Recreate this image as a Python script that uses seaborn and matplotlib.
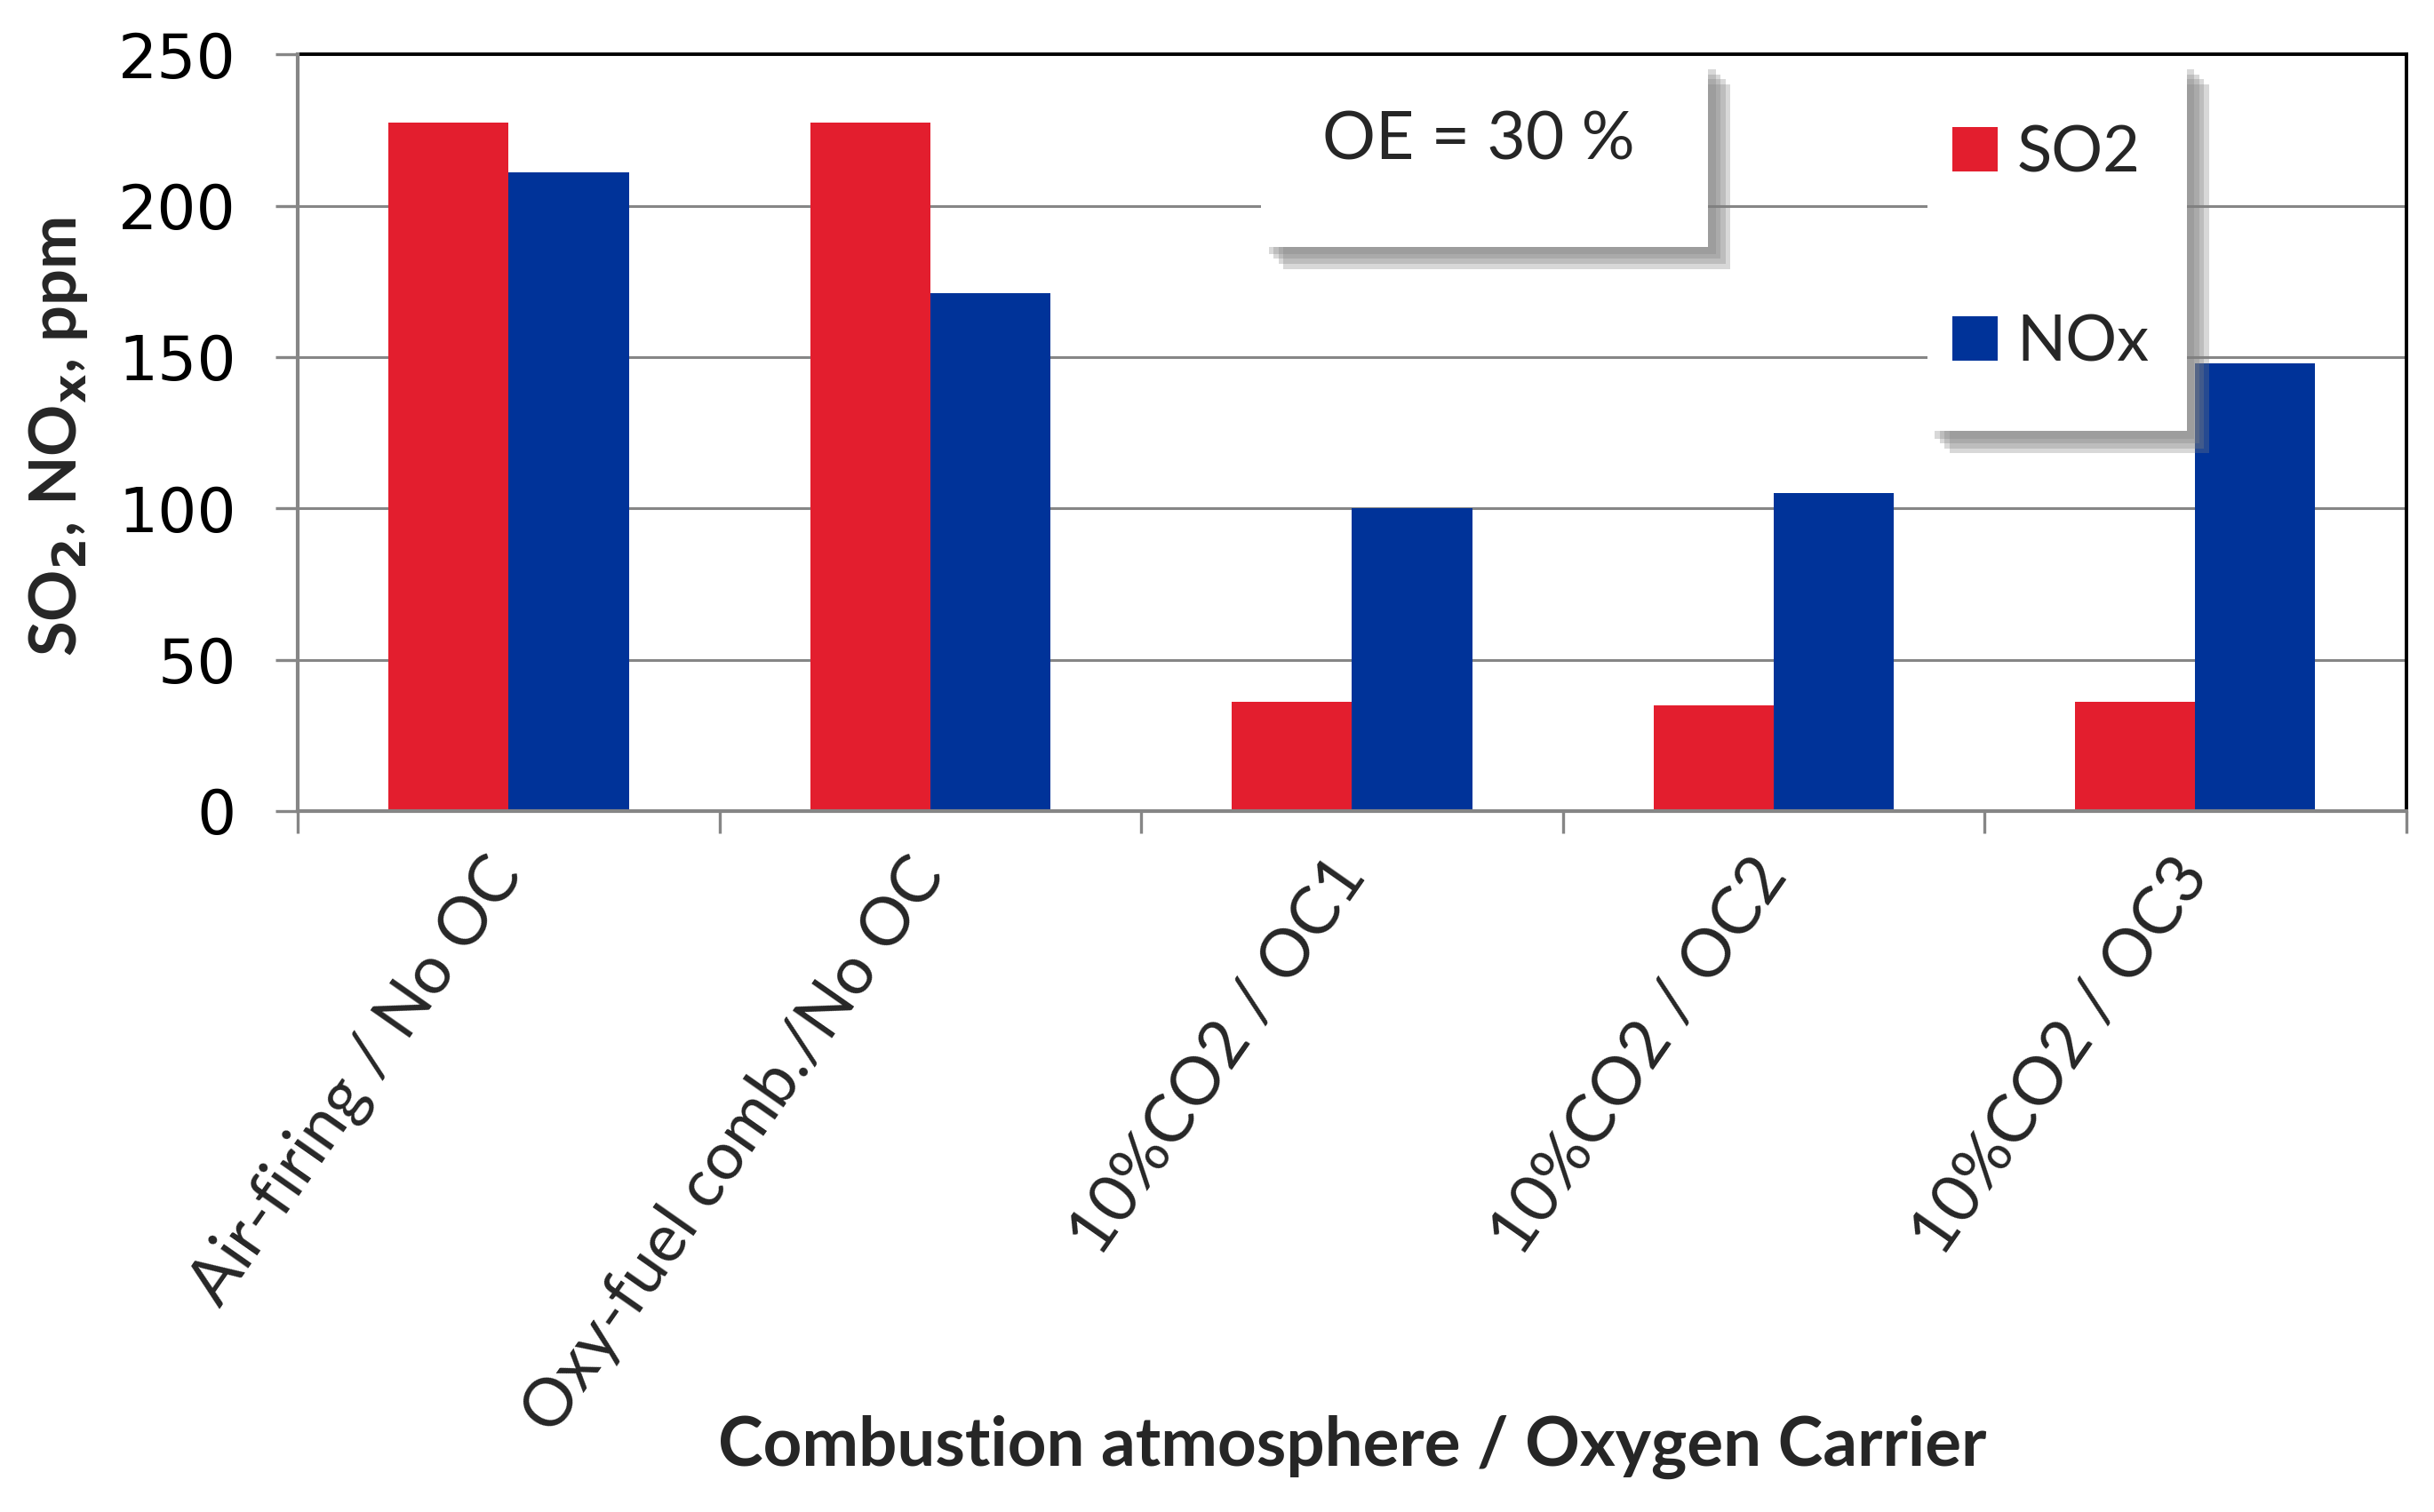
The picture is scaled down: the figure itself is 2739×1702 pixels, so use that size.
import matplotlib
matplotlib.use("Agg")
import matplotlib.pyplot as plt
import matplotlib.patheffects as pe
from matplotlib.patches import Rectangle
import seaborn as sns
import pandas as pd
import numpy as np

categories = ["Air-firing / No OC", "Oxy-fuel comb./No OC", "10%CO2 / OC1",
              "10%CO2 / OC2", "10%CO2 / OC3"]
so2_values = [227.5, 227.5, 36, 35, 36]
nox_values = [211, 171, 100, 105, 148]
series_names = ["SO2", "NOx"]
y_ticks = [0, 50, 100, 150, 200, 250]

df = pd.DataFrame({
    "cat": categories * 2,
    "val": so2_values + nox_values,
    "gas": [series_names[0]] * len(categories) + [series_names[1]] * len(categories),
})

sns.set_theme(style="white")
plt.rcParams["font.family"] = ["Lato", "DejaVu Sans"]

fig = plt.figure(figsize=(13.695, 8.51), dpi=200)
ax = fig.add_axes([0.1224, 0.4636, 0.8661, 0.5004])

red = "#E31E2E"
blue = "#003399"
sns.barplot(data=df, x="cat", y="val", hue="gas", palette=[red, blue],
            width=0.57, saturation=1, ax=ax, zorder=3, linewidth=0)

ax.set_ylim(0, 250)
ax.set_xlim(-0.5, len(categories) - 0.5)
ax.set_yticks(y_ticks)
ax.set_yticklabels([str(t) for t in y_ticks], fontfamily="DejaVu Sans", fontsize=25)
ax.yaxis.grid(True, color="#868686", linewidth=1.1, zorder=0)
ax.set_axisbelow(True)

# spines
for s in ["top", "right"]:
    ax.spines[s].set_color("black")
    ax.spines[s].set_linewidth(1.4)
for s in ["left", "bottom"]:
    ax.spines[s].set_color("#868686")
    ax.spines[s].set_linewidth(1.5)
    ax.spines[s].set_zorder(4)

ax.tick_params(axis="y", which="major", left=True, length=9, width=1.2,
               color="#868686", pad=16, labelcolor="black")
ax.set_xticks(np.arange(-0.5, len(categories), 1.0), minor=True)
ax.tick_params(axis="x", which="minor", bottom=True, length=9, width=1.2,
               color="#868686")
ax.tick_params(axis="x", which="major", bottom=False, length=0, pad=22)
ax.set_xticklabels(categories, rotation=55, ha="right", rotation_mode="anchor",
                   fontsize=27, va="center")

ax.set_xlabel("")
ax.set_ylabel("")

fig.text(0.5555, 0.043, "Combustion atmosphere / Oxygen Carrier",
         ha="center", va="center", fontsize=27.5, fontweight="bold")
fig.text(0.024, 0.711, r"SO$_\mathbf{2}$, NO$_\mathbf{x}$, ppm", rotation=90,
         ha="center", va="center", fontsize=26, fontweight="bold")


def shadow_effects():
    effs = []
    for off in (3, 5, 7, 9):
        effs.append(pe.SimplePatchShadow(offset=(off, -off), shadow_rgbFace="#808080",
                                         alpha=0.3))
    effs.append(pe.Normal())
    return effs


# OE annotation box
oe_box = Rectangle((0.457, 0.746), 0.212, 0.244, transform=ax.transAxes,
                   facecolor="white", edgecolor="none", zorder=8,
                   path_effects=shadow_effects())
ax.add_patch(oe_box)
ax.text(0.56, 0.887, "OE = 30 %", transform=ax.transAxes, ha="center",
        va="center", fontsize=27, zorder=9)

# legend box
leg_box = Rectangle((0.773, 0.502), 0.123, 0.488, transform=ax.transAxes,
                    facecolor="white", edgecolor="none", zorder=8,
                    path_effects=shadow_effects())
ax.add_patch(leg_box)

handles, labels = ax.get_legend_handles_labels()
ax.get_legend().remove()
leg = ax.legend(handles, labels, loc="center left", bbox_to_anchor=(0.785, 0.744),
                frameon=False, fontsize=26,
                handlelength=0.7, handleheight=0.7, handletextpad=0.3,
                labelspacing=2.05, borderpad=0, borderaxespad=0)
leg.set_zorder(10)

fig.savefig("out.png", dpi=200)
